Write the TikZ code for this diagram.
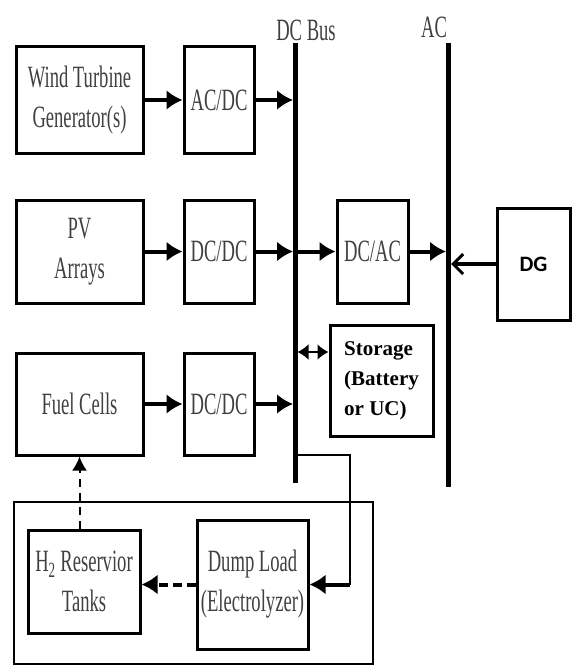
\documentclass[tikz,border=0pt]{standalone}
\usepackage{fontspec}
\newfontfamily\condfont[FakeStretch=0.6]{Liberation Serif}
\newfontfamily\storfont{Liberation Serif}
\newfontfamily\dgfont{Carlito}
\usetikzlibrary{arrows.meta,calc}

\begin{document}
\begin{tikzpicture}[x=1pt,y=-1pt,
	blk/.style={draw,line width=3pt,inner sep=0pt,align=center,text=black!75,font=\condfont\fontsize{31}{40}\selectfont},
	lbl/.style={inner sep=0pt,text=black!75,font=\condfont\fontsize{31}{40}\selectfont},
	arr/.style={line width=4pt,-{Latex[length=16pt,width=20pt]}},
	bus/.style={line width=5pt}]
	\useasboundingbox (0,0) rectangle (572,666);
	
	% sources and converters
	\node[blk,minimum width=127pt,minimum height=106pt] (wind) at (79.5,100) {Wind Turbine\\Generator(s)};
	\node[blk,minimum width=70pt,minimum height=106pt] (acdc) at (219,100) {AC/DC};
	\node[blk,minimum width=127pt,minimum height=103pt] (pv) at (79.5,251.5) {PV\\Arrays};
	\node[blk,minimum width=70pt,minimum height=103pt] (dcdcpv) at (219,251.5) {DC/DC};
	\node[blk,minimum width=127pt,minimum height=102pt] (fuel) at (79.5,404) {Fuel Cells};
	\node[blk,minimum width=70pt,minimum height=102pt] (dcdcfc) at (219,404) {DC/DC};
	\node[blk,minimum width=71pt,minimum height=103pt] (dcac) at (372.5,251.5) {DC/AC};
	\node[blk,minimum width=73pt,minimum height=112pt,text=black,font=\dgfont\bfseries\fontsize{22}{26}\selectfont] (dg) at (533.5,264) {DG};
	\node[blk,minimum width=103pt,minimum height=111pt,align=left,text=black,font=\storfont\bfseries\fontsize{21}{30}\selectfont] (stor) at (381.5,380.5) {Storage\\(Battery\\or UC)};
	
	% hydrogen loop
	\draw[line width=2pt] (14,502) rectangle (373,664);
	\node[blk,minimum width=112pt,minimum height=103pt] (htank) at (84,581.5) {H\textsubscript{2} Reservior\\Tanks};
	\node[blk,minimum width=111pt,minimum height=129pt] (dump) at (252.5,584.5) {Dump Load\\(Electrolyzer)};
	
	% buses
	\coordinate (dctop) at (295,43);
	\coordinate (dcbot) at (295,483);
	\coordinate (actop) at (448,43);
	\coordinate (acbot) at (448,487);
	\draw[bus] (dctop) -- (dcbot);
	\draw[bus] (actop) -- (acbot);
	\node[lbl] (dclbl) at (306,30) {DC Bus};
	\node[lbl] (aclbl) at (434,27) {AC};
	
	% power flow
	\draw[arr] (wind) -- (acdc);
	\draw[arr] (pv) -- (dcdcpv);
	\draw[arr] (fuel) -- (dcdcfc);
	\foreach \n in {acdc,dcdcpv,dcdcfc}
		\draw[arr,shorten >=2pt] (\n.east) -- (\n.east -| dctop);
	\draw[arr] (dcdcpv.east -| dctop) -- (dcac.west);
	\draw[arr,shorten >=2pt] (dcac.east) -- (dcac.east -| actop);
	\draw[line width=4pt,-{Straight Barb[length=10pt,width=20pt,line width=3pt]},shorten >=3pt] (dg.west) -- (dg.west -| actop);
	\coordinate (storin) at ($(stor.north west)!0.25!(stor.south west)$);
	\draw[line width=2pt,{Latex[length=11pt,width=16pt]}-{Latex[length=11pt,width=16pt]},shorten <=2.5pt] (storin -| dctop) -- (storin);
	
	% dump load branch
	\coordinate (tap) at (295,455);
	\coordinate (elbow) at (350,455);
	\draw[line width=2pt] (tap) -- (elbow) -- (elbow |- dump.east);
	\draw[arr] (elbow |- dump.east) -- (dump.east);
	\draw[arr,dash pattern=on 9pt off 5pt] (dump.west) -- (dump.west -| htank.east);
	\draw[line width=2pt,dash pattern=on 8pt off 6pt,-{Latex[length=14pt,width=15pt]}] (htank.north -| fuel.south) -- (fuel.south);
\end{tikzpicture}
\end{document}
